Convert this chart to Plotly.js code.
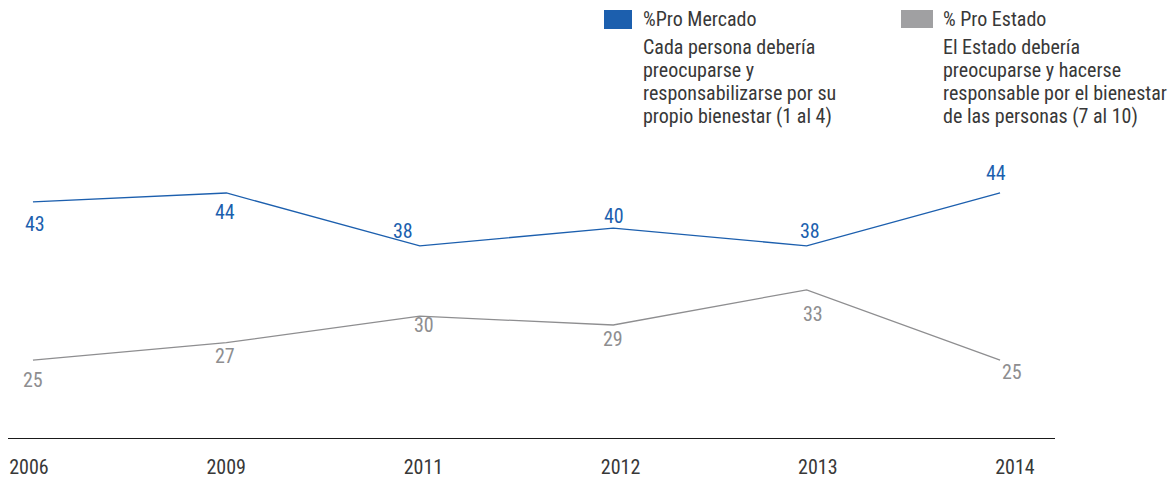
<!DOCTYPE html>
<html>
<head>
<meta charset="utf-8">
<script src="https://cdn.plot.ly/plotly-3.0.1.min.js"></script>
<style>html,body{margin:0;padding:0;background:#fff;}#chart{width:1173px;height:480px;}</style>
</head>
<body>
<div id="chart"></div>
<script>
// ---- data ----
const years = ['2006', '2009', '2011', '2012', '2013', '2014'];
const proMercado = [43, 44, 38, 40, 38, 44];
const proEstado = [25, 27, 30, 29, 33, 25];
const seriesNames = ['%Pro Mercado', '% Pro Estado'];
const seriesDescs = [
  ['Cada persona debería', 'preocuparse y', 'responsabilizarse por su', 'propio bienestar (1 al 4)'],
  ['El Estado debería', 'preocuparse y hacerse', 'responsable por el bienestar', 'de las personas (7 al 10)']
];

// ---- styles ----
const FONT = '"Liberation Sans Narrow", "Roboto Condensed", "DejaVu Sans Condensed", "Arial Narrow", sans-serif';
const FS = 20;
const BLUE = '#1c5fae';
const GREY = '#8e8e90';
const GREY_SQ = '#a0a0a2';
const TEXT = '#383838';
const W = 1173, H = 480;
const ML = 8, MR = 118, MT = 0, MB = 42;
const PW = W - ML - MR, PH = H - MT - MB;
const px = x => (x - ML) / PW;
const py = y => (H - MB - y) / PH;

const blueShiftY = [-22, -19, 15, 12, 15, 20];
const blueShiftX = [2, -1, -17, 1, 3, -4];
const greyShiftY = [-20, -13, -9, -14, -24, -12];
const greyShiftX = [0, -1, 4, 0, 6, 12];

const traces = [
  {x: years, y: proMercado, type: 'scatter', mode: 'lines', line: {color: BLUE, width: 1.3}, hoverinfo: 'skip', showlegend: false},
  {x: years, y: proEstado, type: 'scatter', mode: 'lines', line: {color: GREY, width: 1.3}, hoverinfo: 'skip', showlegend: false},
  {x: years, y: years.map(() => null), xaxis: 'x2', type: 'scatter', mode: 'lines', hoverinfo: 'skip', showlegend: false}
];

const annotations = [];
years.forEach((yr, i) => {
  // category axis: annotation x given as category index
  annotations.push({x: i, y: proMercado[i], xref: 'x', yref: 'y', text: String(proMercado[i]), showarrow: false,
    yshift: blueShiftY[i], xshift: blueShiftX[i], font: {family: FONT, size: FS, color: BLUE}});
  annotations.push({x: i, y: proEstado[i], xref: 'x', yref: 'y', text: String(proEstado[i]), showarrow: false,
    yshift: greyShiftY[i], xshift: greyShiftX[i], font: {family: FONT, size: FS, color: GREY}});
});

// legend (custom)
const legX = [641, 941];
const sqColors = [BLUE, GREY_SQ];
const sqBox = [[604, 10, 632, 29], [901, 10, 933, 28]];
const descY0 = 47, descDY = 23;
const shapes = [];
for (let k = 0; k < 2; k++) {
  shapes.push({type: 'rect', xref: 'paper', yref: 'paper', x0: px(sqBox[k][0]), x1: px(sqBox[k][2]),
    y0: py(sqBox[k][3]), y1: py(sqBox[k][1]), fillcolor: sqColors[k], line: {width: 0}});
  annotations.push({xref: 'paper', yref: 'paper', x: px(legX[k]), y: py(19), xanchor: 'left', yanchor: 'middle',
    text: seriesNames[k], showarrow: false, font: {family: FONT, size: FS, color: TEXT}});
  seriesDescs[k].forEach((line, j) => {
    annotations.push({xref: 'paper', yref: 'paper', x: px(legX[k]), y: py(descY0 + j * descDY), xanchor: 'left', yanchor: 'middle',
      text: line, showarrow: false, font: {family: FONT, size: FS, color: TEXT}});
  });
}

const layout = {
  width: W, height: H,
  margin: {l: ML, r: MR, t: MT, b: MB, pad: 0},
  paper_bgcolor: '#ffffff', plot_bgcolor: '#ffffff',
  showlegend: false,
  font: {family: FONT, size: FS, color: TEXT},
  xaxis: {type: 'category', categoryorder: 'array', categoryarray: years, range: [-0.129, 5.284],
    showgrid: false, zeroline: false, showline: true, linecolor: '#1a1a1a', linewidth: 1.3,
    showticklabels: false, ticks: '', fixedrange: true},
  xaxis2: {type: 'category', categoryorder: 'array', categoryarray: years, range: [-0.1065, 5.203],
    overlaying: 'x', anchor: 'y', side: 'bottom', showgrid: false, zeroline: false, showline: false,
    ticks: '', ticklabelstandoff: 15, tickfont: {family: FONT, size: FS, color: TEXT}, fixedrange: true},
  yaxis: {range: [16.16, 65.93], visible: false, showgrid: false, zeroline: false, fixedrange: true},
  annotations: annotations,
  shapes: shapes
};

Plotly.newPlot('chart', traces, layout, {displayModeBar: false, staticPlot: true});
</script>
</body>
</html>
